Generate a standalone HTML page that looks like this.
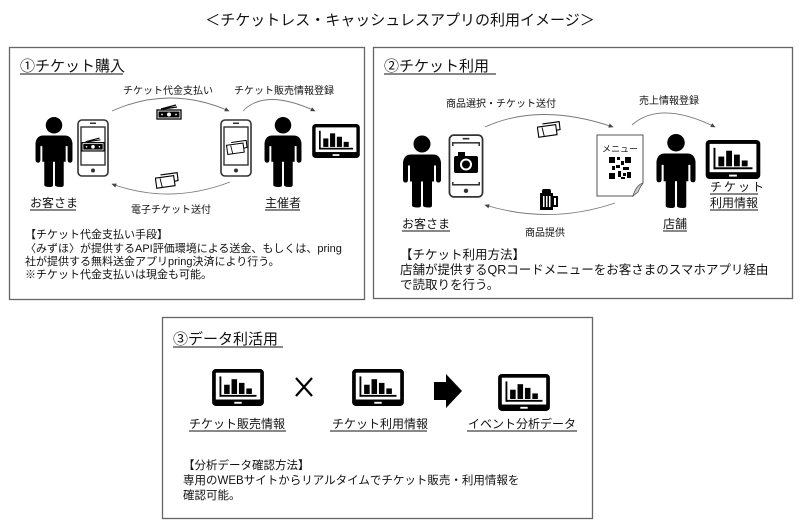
<!DOCTYPE html>
<html><head><meta charset="utf-8"><style>
html,body{margin:0;padding:0;background:#fff;}
svg{display:block;font-family:"Liberation Sans","Noto Sans CJK JP",sans-serif;}
</style></head><body>
<svg width="800" height="532" viewBox="0 0 800 532" xmlns="http://www.w3.org/2000/svg">
<defs>
<symbol id="person" viewBox="0 0 40 72">
<circle cx="20" cy="8.5" r="8.5" fill="#000"/>
<path d="M9 19 H31 Q38 19 39 27 L39 44 Q39 47 36.5 47 Q34 47 34 44 L34 30 L32 30 L32 46 L30 46 L30 70 Q30 72 27 72 Q21 72 21 70 L21 46 L19 46 L19 70 Q19 72 16 72 Q10 72 10 70 L10 46 L8 46 L8 30 L6 30 L6 44 Q6 47 3.5 47 Q1 47 1 44 L1 27 Q2 19 9 19 Z" fill="#000"/>
</symbol>
<symbol id="monitor" viewBox="0 0 56 40">
<rect x="0" y="0" width="56" height="40" rx="4" fill="#000"/>
<rect x="4" y="4" width="48" height="29" fill="#fff"/>
<rect x="8" y="8" width="2" height="22" fill="#000"/>
<rect x="8" y="28" width="40" height="2" fill="#000"/>
<rect x="13" y="17" width="6" height="10" fill="#000"/>
<rect x="21" y="11" width="6" height="16" fill="#000"/>
<rect x="29" y="15" width="6" height="12" fill="#000"/>
<rect x="37" y="21" width="6" height="6" fill="#000"/>
<rect x="24" y="35.5" width="8" height="2" fill="#fff"/>
</symbol>
<symbol id="phone" viewBox="0 0 32 58">
<rect x="1" y="1" width="30" height="56" rx="4" fill="#fff" stroke="#333" stroke-width="1.6"/>
<rect x="4" y="8" width="24" height="38" fill="#fff" stroke="#333" stroke-width="1.4"/>
<rect x="13" y="3.5" width="6" height="1.5" fill="#333"/>
<circle cx="16" cy="51.5" r="2" fill="#333"/>
</symbol>
<symbol id="money" viewBox="0 0 26 16">
<path d="M5 5 L20 1 M7 5 L21 3" stroke="#000" stroke-width="1.2" fill="none"/>
<rect x="1" y="6" width="24" height="9" fill="#fff" stroke="#000" stroke-width="1.3"/>
<rect x="2.5" y="7.5" width="21" height="6" fill="#000"/>
<circle cx="13" cy="10.5" r="2" fill="#fff"/><circle cx="6" cy="10.5" r="0.9" fill="#fff"/><circle cx="20" cy="10.5" r="0.9" fill="#fff"/>
</symbol>
<symbol id="ticket" viewBox="0 0 26 18">
<path d="M6 3 L24 0.5 L25 9 L20 10" fill="#fff" stroke="#000" stroke-width="1.2"/>
<rect x="1" y="5" width="20" height="11" fill="#fff" stroke="#000" stroke-width="1.2" transform="rotate(-8 11 10)"/>
<path d="M6 6 L7 16" stroke="#000" stroke-width="1" transform="rotate(-8 11 10)"/>
</symbol>
<marker id="ah" viewBox="0 0 10 10" refX="8" refY="5" markerWidth="6" markerHeight="6" orient="auto"><path d="M0 1 L9 5 L0 9 Z" fill="#444"/></marker>
</defs>

<text x="400" y="25" font-size="15" text-anchor="middle" fill="#111">＜チケットレス・キャッシュレスアプリの利用イメージ＞</text>

<!-- Box 1 -->
<rect x="9.5" y="47.5" width="355" height="252" fill="#fff" stroke="#666" stroke-width="1.3"/>
<text x="20" y="71" font-size="15" fill="#111">①チケット購入</text>
<line x1="20" y1="74" x2="123" y2="74" stroke="#111" stroke-width="1"/>
<text x="168" y="94" font-size="10" text-anchor="middle" fill="#111">チケット代金支払い</text>
<text x="284" y="94" font-size="10" text-anchor="middle" fill="#111">チケット販売情報登録</text>
<path d="M112 111 Q170 85 229 111" fill="none" stroke="#777" stroke-width="0.9" marker-end="url(#ah)"/>
<path d="M243 111 Q265 88 315 111" fill="none" stroke="#777" stroke-width="0.9" marker-end="url(#ah)"/>
<path d="M230 182 Q170 205 112 184" fill="none" stroke="#777" stroke-width="0.9" marker-end="url(#ah)"/>
<use href="#money" x="156" y="104" width="26" height="16"/>
<use href="#ticket" x="155" y="172" width="24" height="17"/>
<use href="#person" x="34" y="117" width="40" height="70"/>
<use href="#phone" x="77" y="119" width="32" height="58"/>
<use href="#money" x="81" y="137" width="24" height="15"/>
<use href="#phone" x="220" y="119" width="32" height="58"/>
<use href="#ticket" x="226" y="140" width="22" height="15"/>
<use href="#person" x="263" y="117" width="40" height="70"/>
<use href="#monitor" x="312" y="124" width="48" height="34"/>
<text x="30" y="207" font-size="12" fill="#111">お客さま</text>
<line x1="30" y1="210" x2="76" y2="210" stroke="#111"/>
<text x="265" y="207" font-size="12" fill="#111">主催者</text>
<line x1="265" y1="210" x2="300" y2="210" stroke="#111"/>
<text x="171" y="213" font-size="10" text-anchor="middle" fill="#111">電子チケット送付</text>
<g font-size="11" fill="#111">
<text x="25" y="238">【チケット代金支払い手段】</text>
<text x="25" y="252">〈みずほ〉が提供するAPI評価環境による送金、もしくは、pring</text>
<text x="25" y="265">社が提供する無料送金アプリpring決済により行う。</text>
<text x="25" y="278">※チケット代金支払いは現金も可能。</text>
</g>

<!-- Box 2 -->
<rect x="373.5" y="47.5" width="419" height="251" fill="#fff" stroke="#666" stroke-width="1.3"/>
<text x="384" y="71" font-size="15" fill="#111">②チケット利用</text>
<line x1="384" y1="74" x2="496" y2="74" stroke="#111"/>
<text x="501" y="107" font-size="10" text-anchor="middle" fill="#111">商品選択・チケット送付</text>
<text x="669" y="104" font-size="10" text-anchor="middle" fill="#111">売上情報登録</text>
<path d="M485 127 Q540 102 613 127" fill="none" stroke="#777" stroke-width="0.9" marker-end="url(#ah)"/>
<path d="M632 125 Q660 100 715 127" fill="none" stroke="#777" stroke-width="0.9" marker-end="url(#ah)"/>
<path d="M615 203 Q550 225 485 205" fill="none" stroke="#777" stroke-width="0.9" marker-end="url(#ah)"/>
<use href="#ticket" x="537" y="121" width="24" height="17"/>
<use href="#person" x="402" y="135" width="40" height="73"/>
<use href="#phone" x="447" y="134" width="38" height="64"/>
<rect x="452" y="146" width="28" height="36" fill="#fff"/>
<g>
<rect x="454" y="156" width="24" height="17" rx="2" fill="#000"/>
<rect x="458" y="152" width="7" height="5" fill="#000"/>
<circle cx="466" cy="164.5" r="6" fill="#fff"/><circle cx="466" cy="164.5" r="4" fill="#000"/>
</g>
<path d="M597 135 H643 V183 L633 196 H597 Z" fill="#fff" stroke="#555" stroke-width="1"/>
<path d="M643 183 Q636 185 633 196 L638 192 Q640 187 643 183" fill="#ccc" stroke="#555" stroke-width="0.8"/>
<text x="620" y="152" font-size="9" text-anchor="middle" fill="#111">メニュー</text>
<g fill="#000">
<rect x="609" y="157" width="22" height="22" fill="#fff"/>
<rect x="609" y="157" width="6" height="6"/><rect x="625" y="157" width="6" height="6"/><rect x="609" y="173" width="6" height="6"/>
<rect x="617" y="157" width="3" height="3"/><rect x="621" y="161" width="3" height="4"/><rect x="616" y="165" width="4" height="3"/>
<rect x="612" y="166" width="3" height="4"/><rect x="623" y="167" width="6" height="3"/><rect x="618" y="171" width="3" height="6"/>
<rect x="623" y="173" width="3" height="3"/><rect x="627" y="172" width="4" height="6"/><rect x="621" y="177" width="4" height="2"/>
</g>
<rect x="540" y="193" width="13" height="17" fill="#000"/>
<rect x="542" y="189" width="9" height="5" rx="2" fill="#000"/>
<rect x="553" y="197" width="4" height="9" fill="none" stroke="#000" stroke-width="2"/>
<rect x="543" y="196" width="1.5" height="11" fill="#fff"/><rect x="546" y="196" width="1.5" height="11" fill="#fff"/><rect x="549" y="196" width="1.5" height="11" fill="#fff"/>
<use href="#person" x="655" y="134" width="42" height="74"/>
<use href="#monitor" x="705" y="140" width="56" height="39"/>
<text x="402" y="228" font-size="12" fill="#111">お客さま</text>
<line x1="402" y1="231" x2="450" y2="231" stroke="#111"/>
<text x="663" y="228" font-size="12" fill="#111">店舗</text>
<line x1="663" y1="231" x2="687" y2="231" stroke="#111"/>
<text x="710" y="191" font-size="12" fill="#111" letter-spacing="2">チケット</text>
<line x1="710" y1="194" x2="758" y2="194" stroke="#111"/>
<text x="710" y="207" font-size="12" fill="#111">利用情報</text>
<line x1="710" y1="210" x2="758" y2="210" stroke="#111"/>
<text x="545" y="236" font-size="10" text-anchor="middle" fill="#111">商品提供</text>
<g font-size="12.5" fill="#111">
<text x="400" y="259">【チケット利用方法】</text>
<text x="400" y="274">店舗が提供するQRコードメニューをお客さまのスマホアプリ経由</text>
<text x="400" y="289">で読取りを行う。</text>
</g>

<!-- Box 3 -->
<rect x="162.5" y="317.5" width="430" height="201" fill="#fff" stroke="#666" stroke-width="1.3"/>
<text x="173" y="344" font-size="15" fill="#111">③データ利活用</text>
<line x1="173" y1="347" x2="283" y2="347" stroke="#111"/>
<use href="#monitor" x="211" y="369" width="54" height="37"/>
<use href="#monitor" x="351" y="369" width="54" height="37"/>
<use href="#monitor" x="497" y="374" width="54" height="37"/>
<path d="M296 378 L312 396 M312 378 L296 396" stroke="#000" stroke-width="2.2"/>
<path d="M434 382 H446 V374 L462 391 L446 408 V400 H434 Z" fill="#000"/>
<g font-size="12" fill="#111" text-anchor="middle">
<text x="237" y="428">チケット販売情報</text>
<text x="380" y="428">チケット利用情報</text>
<text x="522" y="428">イベント分析データ</text>
</g>
<line x1="189" y1="431" x2="286" y2="431" stroke="#111"/>
<line x1="330" y1="431" x2="427" y2="431" stroke="#111"/>
<line x1="467" y1="431" x2="577" y2="431" stroke="#111"/>
<g font-size="11.5" fill="#111">
<text x="183" y="469">【分析データ確認方法】</text>
<text x="183" y="484">専用のWEBサイトからリアルタイムでチケット販売・利用情報を</text>
<text x="183" y="499">確認可能。</text>
</g>
</svg>
</body></html>
